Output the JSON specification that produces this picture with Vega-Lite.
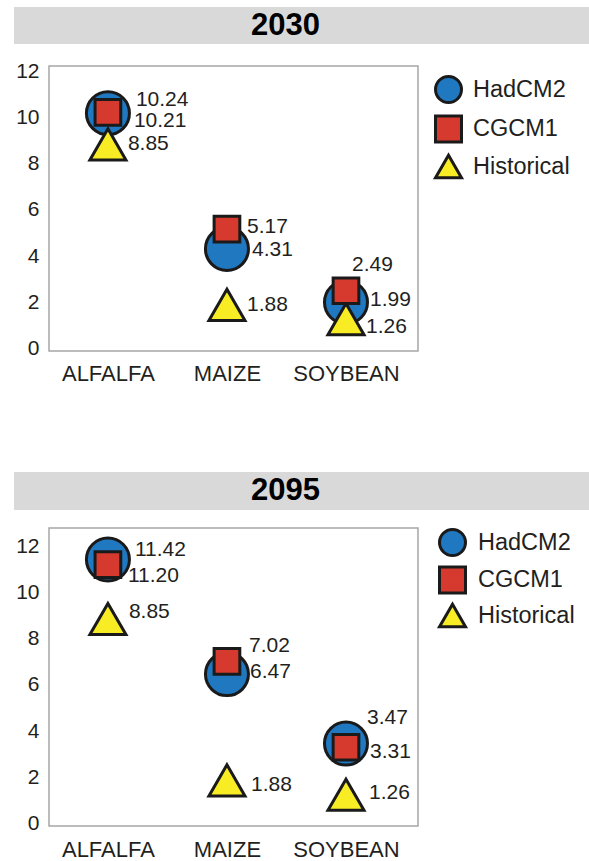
{
  "$schema": "https://vega.github.io/schema/vega-lite/v6.json",
  "padding": {"left": 14, "top": 7, "right": 0, "bottom": 0},
  "background": "white",
  "datasets": {
    "h2030": [{"year": "2030"}],
    "h2095": [{"year": "2095"}],
    "d2030": [
      {"crop": "ALFALFA", "model": "HadCM2", "value": 10.21},
      {"crop": "MAIZE", "model": "HadCM2", "value": 4.31},
      {"crop": "SOYBEAN", "model": "HadCM2", "value": 1.99},
      {"crop": "ALFALFA", "model": "Historical", "value": 8.85},
      {"crop": "MAIZE", "model": "Historical", "value": 1.88},
      {"crop": "SOYBEAN", "model": "Historical", "value": 1.26},
      {"crop": "ALFALFA", "model": "CGCM1", "value": 10.24},
      {"crop": "MAIZE", "model": "CGCM1", "value": 5.17},
      {"crop": "SOYBEAN", "model": "CGCM1", "value": 2.49}
    ],
    "d2095": [
      {"crop": "ALFALFA", "model": "HadCM2", "value": 11.42},
      {"crop": "MAIZE", "model": "HadCM2", "value": 6.47},
      {"crop": "SOYBEAN", "model": "HadCM2", "value": 3.47},
      {"crop": "ALFALFA", "model": "Historical", "value": 8.85},
      {"crop": "MAIZE", "model": "Historical", "value": 1.88},
      {"crop": "SOYBEAN", "model": "Historical", "value": 1.26},
      {"crop": "ALFALFA", "model": "CGCM1", "value": 11.20},
      {"crop": "MAIZE", "model": "CGCM1", "value": 7.02},
      {"crop": "SOYBEAN", "model": "CGCM1", "value": 3.31}
    ]
  },
  "vconcat": [
    {
      "vconcat": [
        {
          "data": {"name": "h2030"},
          "width": 575, "height": 37,
          "view": {"fill": "#d9d9d9", "stroke": null},
          "mark": {"type": "text", "font": "Liberation Sans", "fontWeight": "bold", "fontSize": 31, "color": "#000000", "dx": -16, "baseline": "middle"},
          "encoding": {"text": {"field": "year", "type": "nominal"}}
        },
        {
          "hconcat": [
            {
              "data": {"name": "d2030"},
              "width": 34, "height": 285,
              "view": {"stroke": null},
              "mark": {"type": "rule", "opacity": 0},
              "encoding": {
                "y": {"field": "value", "type": "quantitative", "scale": {"domain": [-0.13, 12.26], "nice": false, "zero": false}, "axis": {"title": null, "values": [0, 2, 4, 6, 8, 10, 12], "ticks": false, "domain": false, "grid": false, "labelPadding": 9, "minExtent": 0, "offset": -34, "labelFontSize": 21}}
              }
            },
            {
              "data": {"name": "d2030"},
              "width": 369, "height": 285,
              "encoding": {
                "x": {"field": "crop", "type": "nominal", "sort": ["ALFALFA", "MAIZE", "SOYBEAN"], "scale": {"type": "point", "padding": 0.55, "align": 0.45}, "axis": {"title": null, "ticks": false, "domain": false, "grid": false, "labelAngle": 0, "labelPadding": 12, "labelFontSize": 22}},
                "y": {"field": "value", "type": "quantitative", "scale": {"domain": [-0.13, 12.26], "nice": false, "zero": false}, "axis": null},
                "shape": {"field": "model", "type": "nominal", "scale": {"domain": ["HadCM2", "CGCM1", "Historical"], "range": ["circle", "square", "triangle-up"]},
                  "legend": {"title": null, "orient": "right", "offset": 7, "padding": 9, "symbolSize": 676, "symbolStrokeWidth": 3, "labelFontSize": 23.5, "labelOffset": 10, "rowPadding": 0.5, "labelColor": "#231f20", "labelFont": "Liberation Sans"}},
                "fill": {"field": "model", "type": "nominal", "scale": {"domain": ["HadCM2", "CGCM1", "Historical"], "range": ["#1f78c0", "#d63a2f", "#f8ec25"]},
                  "legend": {"title": null, "orient": "right", "offset": 7, "padding": 9, "symbolSize": 676, "symbolStrokeWidth": 3, "labelFontSize": 23.5, "labelOffset": 10, "rowPadding": 0.5, "labelColor": "#231f20", "labelFont": "Liberation Sans"}},
                "stroke": {"field": "model", "type": "nominal", "scale": {"domain": ["HadCM2", "CGCM1", "Historical"], "range": ["#1a1a1a", "#1a1a1a", "#1a1a1a"]},
                  "legend": {"title": null, "orient": "right", "offset": 7, "padding": 9, "symbolSize": 676, "symbolStrokeWidth": 3, "labelFontSize": 23.5, "labelOffset": 10, "rowPadding": 0.5, "labelColor": "#231f20", "labelFont": "Liberation Sans"}}
              },
              "layer": [
                {
                  "transform": [{"filter": "datum.model == 'HadCM2'"}],
                  "mark": {"type": "point", "filled": true, "strokeWidth": 3, "opacity": 1, "size": 1850}
                },
                {
                  "transform": [{"filter": "datum.model == 'Historical'"}],
                  "mark": {"type": "point", "filled": true, "strokeWidth": 3, "opacity": 1, "size": 1300}
                },
                {
                  "transform": [{"filter": "datum.model == 'CGCM1'"}],
                  "mark": {"type": "point", "filled": true, "strokeWidth": 3, "opacity": 1, "size": 660}
                },
                {
                  "transform": [{"filter": "datum.model == 'HadCM2' && datum.crop == 'MAIZE'"}],
                  "mark": {"type": "text", "align": "left", "baseline": "middle", "dx": 25, "dy": 1, "fontSize": 21, "font": "Liberation Sans", "color": "#231f20"},
                  "encoding": {"text": {"field": "value", "type": "quantitative", "format": ".2f"}, "shape": null, "fill": null, "stroke": null}
                },
                {
                  "transform": [{"filter": "datum.model == 'HadCM2' && datum.crop == 'SOYBEAN'"}],
                  "mark": {"type": "text", "align": "left", "baseline": "middle", "dx": 24, "dy": -2, "fontSize": 21, "font": "Liberation Sans", "color": "#231f20"},
                  "encoding": {"text": {"field": "value", "type": "quantitative", "format": ".2f"}, "shape": null, "fill": null, "stroke": null}
                },
                {
                  "transform": [{"filter": "datum.model == 'CGCM1' && datum.crop == 'MAIZE'"}],
                  "mark": {"type": "text", "align": "left", "baseline": "middle", "dx": 20, "dy": -2, "fontSize": 21, "font": "Liberation Sans", "color": "#231f20"},
                  "encoding": {"text": {"field": "value", "type": "quantitative", "format": ".2f"}, "shape": null, "fill": null, "stroke": null}
                },
                {
                  "transform": [{"filter": "datum.model == 'Historical' && datum.crop != 'SOYBEAN'"}],
                  "mark": {"type": "text", "align": "left", "baseline": "middle", "dx": 20, "dy": 0, "fontSize": 21, "font": "Liberation Sans", "color": "#231f20"},
                  "encoding": {"text": {"field": "value", "type": "quantitative", "format": ".2f"}, "shape": null, "fill": null, "stroke": null}
                },
                {
                  "transform": [{"filter": "datum.model == 'CGCM1' && datum.crop == 'ALFALFA'"}],
                  "mark": {"type": "text", "align": "left", "baseline": "middle", "dx": 28, "dy": -12, "fontSize": 21, "font": "Liberation Sans", "color": "#231f20"},
                  "encoding": {"text": {"field": "value", "type": "quantitative", "format": ".2f"}, "shape": null, "fill": null, "stroke": null}
                },
                {
                  "transform": [{"filter": "datum.model == 'HadCM2' && datum.crop == 'ALFALFA'"}],
                  "mark": {"type": "text", "align": "left", "baseline": "middle", "dx": 26, "dy": 8, "fontSize": 21, "font": "Liberation Sans", "color": "#231f20"},
                  "encoding": {"text": {"field": "value", "type": "quantitative", "format": ".2f"}, "shape": null, "fill": null, "stroke": null}
                },
                {
                  "transform": [{"filter": "datum.model == 'Historical' && datum.crop == 'SOYBEAN'"}],
                  "mark": {"type": "text", "align": "left", "baseline": "middle", "dx": 20, "dy": 8, "fontSize": 21, "font": "Liberation Sans", "color": "#231f20"},
                  "encoding": {"text": {"field": "value", "type": "quantitative", "format": ".2f"}, "shape": null, "fill": null, "stroke": null}
                },
                {
                  "transform": [{"filter": "datum.model == 'CGCM1' && datum.crop == 'SOYBEAN'"}],
                  "mark": {"type": "text", "align": "left", "baseline": "middle", "dx": 6, "dy": -26, "fontSize": 21, "font": "Liberation Sans", "color": "#231f20"},
                  "encoding": {"text": {"field": "value", "type": "quantitative", "format": ".2f"}, "shape": null, "fill": null, "stroke": null}
                }
              ]
            }
          ],
          "spacing": 0,
          "resolve": {"scale": {"fill": "independent", "shape": "independent", "stroke": "independent"}, "legend": {"fill": "independent", "shape": "independent", "stroke": "independent"}}
        }
      ],
      "spacing": 16,
      "resolve": {"scale": {"fill": "independent", "shape": "independent", "stroke": "independent"}, "legend": {"fill": "independent", "shape": "independent", "stroke": "independent"}}
    },
    {
      "vconcat": [
        {
          "data": {"name": "h2095"},
          "width": 575, "height": 38,
          "view": {"fill": "#d9d9d9", "stroke": null},
          "mark": {"type": "text", "font": "Liberation Sans", "fontWeight": "bold", "fontSize": 31, "color": "#000000", "dx": -16, "baseline": "middle"},
          "encoding": {"text": {"field": "year", "type": "nominal"}}
        },
        {
          "hconcat": [
            {
              "data": {"name": "d2095"},
              "width": 34, "height": 298,
              "view": {"stroke": null},
              "mark": {"type": "rule", "opacity": 0},
              "encoding": {
                "y": {"field": "value", "type": "quantitative", "scale": {"domain": [-0.09, 12.78], "nice": false, "zero": false}, "axis": {"title": null, "values": [0, 2, 4, 6, 8, 10, 12], "ticks": false, "domain": false, "grid": false, "labelPadding": 9, "minExtent": 0, "offset": -34, "labelFontSize": 21}}
              }
            },
            {
              "data": {"name": "d2095"},
              "width": 369, "height": 298,
              "encoding": {
                "x": {"field": "crop", "type": "nominal", "sort": ["ALFALFA", "MAIZE", "SOYBEAN"], "scale": {"type": "point", "padding": 0.55, "align": 0.45}, "axis": {"title": null, "ticks": false, "domain": false, "grid": false, "labelAngle": 0, "labelPadding": 13, "labelFontSize": 22}},
                "y": {"field": "value", "type": "quantitative", "scale": {"domain": [-0.09, 12.78], "nice": false, "zero": false}, "axis": null},
                "shape": {"field": "model", "type": "nominal", "scale": {"domain": ["HadCM2", "CGCM1", "Historical"], "range": ["circle", "square", "triangle-up"]},
                  "legend": {"title": null, "orient": "right", "offset": 20, "padding": 0, "symbolSize": 676, "symbolStrokeWidth": 3, "labelFontSize": 23.5, "labelOffset": 11, "rowPadding": -1.5, "labelColor": "#231f20", "labelFont": "Liberation Sans"}},
                "fill": {"field": "model", "type": "nominal", "scale": {"domain": ["HadCM2", "CGCM1", "Historical"], "range": ["#1f78c0", "#d63a2f", "#f8ec25"]},
                  "legend": {"title": null, "orient": "right", "offset": 20, "padding": 0, "symbolSize": 676, "symbolStrokeWidth": 3, "labelFontSize": 23.5, "labelOffset": 11, "rowPadding": -1.5, "labelColor": "#231f20", "labelFont": "Liberation Sans"}},
                "stroke": {"field": "model", "type": "nominal", "scale": {"domain": ["HadCM2", "CGCM1", "Historical"], "range": ["#1a1a1a", "#1a1a1a", "#1a1a1a"]},
                  "legend": {"title": null, "orient": "right", "offset": 20, "padding": 0, "symbolSize": 676, "symbolStrokeWidth": 3, "labelFontSize": 23.5, "labelOffset": 11, "rowPadding": -1.5, "labelColor": "#231f20", "labelFont": "Liberation Sans"}}
              },
              "layer": [
                {
                  "transform": [{"filter": "datum.model == 'HadCM2'"}],
                  "mark": {"type": "point", "filled": true, "strokeWidth": 3, "opacity": 1, "size": 1850}
                },
                {
                  "transform": [{"filter": "datum.model == 'Historical'"}],
                  "mark": {"type": "point", "filled": true, "strokeWidth": 3, "opacity": 1, "size": 1300}
                },
                {
                  "transform": [{"filter": "datum.model == 'CGCM1'"}],
                  "mark": {"type": "point", "filled": true, "strokeWidth": 3, "opacity": 1, "size": 660}
                },
                {
                  "transform": [{"filter": "(datum.model == 'HadCM2' && datum.crop == 'MAIZE') || (datum.model == 'Historical' && datum.crop == 'SOYBEAN')"}],
                  "mark": {"type": "text", "align": "left", "baseline": "middle", "dx": 23, "dy": -2, "fontSize": 21, "font": "Liberation Sans", "color": "#231f20"},
                  "encoding": {"text": {"field": "value", "type": "quantitative", "format": ".2f"}, "shape": null, "fill": null, "stroke": null}
                },
                {
                  "transform": [{"filter": "(datum.model == 'Historical' && datum.crop == 'MAIZE') || (datum.model == 'CGCM1' && datum.crop == 'SOYBEAN')"}],
                  "mark": {"type": "text", "align": "left", "baseline": "middle", "dx": 24, "dy": 5, "fontSize": 21, "font": "Liberation Sans", "color": "#231f20"},
                  "encoding": {"text": {"field": "value", "type": "quantitative", "format": ".2f"}, "shape": null, "fill": null, "stroke": null}
                },
                {
                  "transform": [{"filter": "datum.model == 'HadCM2' && datum.crop == 'ALFALFA'"}],
                  "mark": {"type": "text", "align": "left", "baseline": "middle", "dx": 27, "dy": -9, "fontSize": 21, "font": "Liberation Sans", "color": "#231f20"},
                  "encoding": {"text": {"field": "value", "type": "quantitative", "format": ".2f"}, "shape": null, "fill": null, "stroke": null}
                },
                {
                  "transform": [{"filter": "datum.model == 'Historical' && datum.crop == 'ALFALFA'"}],
                  "mark": {"type": "text", "align": "left", "baseline": "middle", "dx": 21, "dy": -7, "fontSize": 21, "font": "Liberation Sans", "color": "#231f20"},
                  "encoding": {"text": {"field": "value", "type": "quantitative", "format": ".2f"}, "shape": null, "fill": null, "stroke": null}
                },
                {
                  "transform": [{"filter": "datum.model == 'CGCM1' && datum.crop == 'MAIZE'"}],
                  "mark": {"type": "text", "align": "left", "baseline": "middle", "dx": 22, "dy": -15, "fontSize": 21, "font": "Liberation Sans", "color": "#231f20"},
                  "encoding": {"text": {"field": "value", "type": "quantitative", "format": ".2f"}, "shape": null, "fill": null, "stroke": null}
                },
                {
                  "transform": [{"filter": "datum.model == 'CGCM1' && datum.crop == 'ALFALFA'"}],
                  "mark": {"type": "text", "align": "left", "baseline": "middle", "dx": 20, "dy": 11, "fontSize": 21, "font": "Liberation Sans", "color": "#231f20"},
                  "encoding": {"text": {"field": "value", "type": "quantitative", "format": ".2f"}, "shape": null, "fill": null, "stroke": null}
                },
                {
                  "transform": [{"filter": "datum.model == 'HadCM2' && datum.crop == 'SOYBEAN'"}],
                  "mark": {"type": "text", "align": "left", "baseline": "middle", "dx": 21, "dy": -26, "fontSize": 21, "font": "Liberation Sans", "color": "#231f20"},
                  "encoding": {"text": {"field": "value", "type": "quantitative", "format": ".2f"}, "shape": null, "fill": null, "stroke": null}
                }
              ]
            }
          ],
          "spacing": 0,
          "resolve": {"scale": {"fill": "independent", "shape": "independent", "stroke": "independent"}, "legend": {"fill": "independent", "shape": "independent", "stroke": "independent"}}
        }
      ],
      "spacing": 17,
      "resolve": {"scale": {"fill": "independent", "shape": "independent", "stroke": "independent"}, "legend": {"fill": "independent", "shape": "independent", "stroke": "independent"}}
    }
  ],
  "spacing": 87,
  "resolve": {"scale": {"fill": "independent", "shape": "independent", "stroke": "independent"}, "legend": {"fill": "independent", "shape": "independent", "stroke": "independent"}},
  "config": {
    "font": "Liberation Sans",
    "view": {"stroke": "#a6a6a6", "strokeWidth": 1.5},
    "axis": {"labelColor": "#231f20", "labelFont": "Liberation Sans"},
    "legend": {"symbolStrokeWidth": 3}
  }
}
